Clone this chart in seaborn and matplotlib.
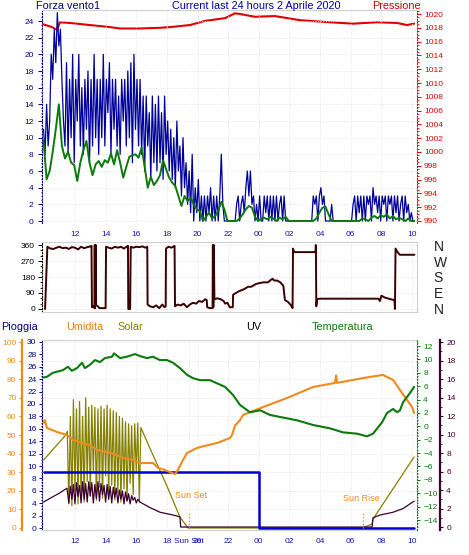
import numpy as np
import matplotlib
matplotlib.use("Agg")
import matplotlib.pyplot as plt
from matplotlib.ticker import MultipleLocator
import seaborn as sns

# ============================================
# Dati (ore dalla mezzanotte del 1 aprile ; 24 = 00:00 del 2 aprile)
# ============================================

# raffica (blu), un campione ogni 0.1 h a partire da 9.95
raffica = [
    11, 8, 14, 9, 12,
    20, 17,
    23, 19, 25, 21, 23, 17,
    12,
    9, 19, 8, 17, 10, 20, 7, 17, 12, 20, 9, 16, 8, 17, 11, 18, 7, 17, 9, 20, 10, 17, 8,
    17, 10, 20, 9, 17, 13, 19, 8, 17, 11, 17, 9, 15, 8, 17, 12, 17, 9, 18, 10, 19, 7, 20, 11, 17, 9,
    17, 8, 15, 6, 15, 9, 13, 5, 15, 7, 14, 6,
    15, 7, 13, 5, 15, 8, 12, 6,
    11, 5, 10, 4, 12, 6, 9, 3, 10, 4,
    7, 2, 6, 1, 8, 0, 4, 1, 5, 0,
    3, 0, 3, 0, 3, 1, 4, 0, 3, 0, 3,
    0, 3, 8, 2, 0, 0,
    0, 0, 0, 0, 0, 0,
    2, 3, 0,
    2, 3, 1,
    4, 6, 3, 6, 2,
    3, 0, 2,
    0, 3, 0, 0, 3, 1, 3, 0, 3, 0,
    3, 0, 3, 0, 2, 3, 0, 3, 0,
    0, 0, 0,
    0, 0, 0, 0, 0, 0, 0, 0, 0, 0, 0, 0, 0, 0,
    3, 2, 3, 0, 3, 4, 2, 3,
    0, 0, 0, 0, 2, 0,
    0, 0, 0, 0, 0, 0, 0, 0, 0, 0, 0, 0,
    2, 3, 0, 3, 1, 3, 0, 3,
    0, 3, 2, 3, 0, 4, 2, 3, 1, 3, 0, 3, 2, 3, 0, 3, 2, 3, 0, 3, 1, 3, 0, 2, 3, 0, 3, 1, 2, 0, 1, 0, 0,
]
t_raffica = 9.95 + 0.1 * np.arange(len(raffica))

# vento medio (verde), un campione ogni 0.2 h a partire da 9.95
vento_medio = [
    9.7, 5.0, 6.0, 8.3, 11.0, 14.0, 9.0, 7.5, 8.3, 7.0,
    6.7, 4.8, 7.0, 8.5, 9.6, 7.0, 5.5, 6.8, 7.2, 6.5,
    7.3, 7.0, 8.1, 6.8, 8.5, 7.0, 5.2, 6.5, 7.7, 7.9,
    8.0, 7.6, 8.8, 6.5, 4.0, 5.3, 4.3, 4.8, 5.5, 7.3,
    6.2, 5.2, 4.6, 4.2, 3.0, 1.8, 3.0, 2.4, 2.8, 2.0,
    1.4, 1.2, 0.0, 0.5, 1.0, 0.3, 0.6, 1.2, 2.3, 1.4,
    0, 0, 0, 0, 0.3, 0.8, 1.4, 1.8, 1.6, 0.5,
    0, 0.3, 0.4, 0.2, 0.5, 0.3, 0, 0.4, 0.2, 0.5,
    0, 0, 0, 0, 0, 0, 0, 0, 0, 0.3,
    1.0, 1.6, 1.7, 0.8, 0, 0, 0, 0, 0, 0,
    0, 0, 0, 0, 0.3, 0.2, 0, 0.4, 0.6, 0.3,
    0.7, 0.5, 0.8, 0.3, 0.6, 0.2, 0.4, 0.2, 0, 0.3,
    0, 0,
]
t_medio = 9.95 + 0.2 * np.arange(len(vento_medio))

# pressione (rosso)
pressione_t = [9.95, 10.5, 10.83, 11.02, 11.67, 12.98, 14.28, 14.94, 16.24, 17.55,
               18.2, 19.5, 20.49, 21.79, 22.44, 22.77, 23.75, 25.05, 26.69, 28.64,
               30.15, 31.71, 33.02, 33.67, 34.13]
pressione = [1018.5, 1018.1, 1017.7, 1018.8, 1018.7, 1018.4, 1018.1, 1017.9, 1017.9, 1018.0,
             1018.1, 1018.4, 1019.0, 1019.4, 1020.1, 1020.0, 1019.6, 1019.7, 1019.1, 1018.8,
             1018.6, 1018.8, 1018.7, 1018.4, 1018.6]

# direzione del vento (gradi)
direzione_t = [10.05, 10.2, 10.4, 10.6, 10.8, 11.0, 11.2, 11.4, 11.6, 11.8,
               12.0, 12.2, 12.4, 12.6, 12.8, 13.0, 13.08, 13.11, 13.2, 13.27,
               13.29, 13.31, 13.36, 13.38, 13.4, 13.5, 13.6, 13.8, 14.0, 14.03,
               14.2, 14.4, 14.6, 14.8, 15.0, 15.2, 15.4, 15.46, 15.48, 15.6,
               15.64, 15.8, 16.0, 16.2, 16.4, 16.6, 16.72, 16.74, 16.9, 17.1,
               17.3, 17.5, 17.7, 17.85, 17.92, 17.94, 18.1, 18.3, 18.5, 18.53,
               18.7, 18.9, 19.1, 19.3, 19.5, 19.7, 19.9, 20.1, 20.3, 20.5,
               20.6, 20.63, 20.8, 20.98, 21.0, 21.03, 21.06, 21.1, 21.3, 21.5,
               21.7, 21.8, 21.95, 22.1, 22.3, 22.32, 22.5, 22.7, 23.0, 23.3,
               23.5, 23.8, 24.0, 24.3, 24.6, 24.8, 24.9, 25.0, 25.2, 25.4,
               25.6, 25.7, 25.9, 26.1, 26.2, 26.23, 26.3, 27.7, 27.72, 27.75,
               27.8, 28.0, 31.8, 31.9, 32.0, 32.2, 32.4, 32.6, 32.85, 32.88,
               32.92, 33.05, 33.2, 34.15]
direzione = [0, 350, 340, 338, 345, 350, 342, 345, 338, 348,
             345, 335, 350, 342, 348, 352, 355, 10, 15, 5,
             360, 5, 360, 20, 20, 15, 5, 5, 5, 350,
             345, 340, 350, 345, 350, 340, 352, 355, 0, 0,
             350, 345, 350, 348, 352, 345, 350, 25, 15, 10,
             20, 5, 25, 10, 15, 340, 350, 345, 355, 15,
             25, 20, 30, 10, 25, 35, 30, 45, 40, 55,
             50, 10, 5, 5, 360, 10, 360, 55, 60, 55,
             45, 30, 35, 10, 10, 80, 90, 100, 110, 125,
             125, 140, 145, 150, 150, 165, 170, 160, 160, 150,
             130, 50, 40, 20, 5, 340, 320, 320, 360, 15,
             55, 58, 58, 45, 75, 65, 60, 55, 50, 0,
             340, 320, 305, 305]

# temperatura (verde, asse destro)
temp_t = [9.95, 10.17, 10.56, 11.22, 11.54, 11.8, 12.13, 12.46, 12.65, 12.98,
          13.31, 13.63, 13.96, 14.42, 14.55, 14.94, 15.39, 15.92, 16.24, 16.7,
          17.09, 17.55, 18.01, 18.4, 18.85, 19.31, 19.7, 20.16, 20.81, 21.79,
          22.31, 22.77, 23.42, 24.08, 24.73, 25.38, 26.49, 27.54, 28.64, 29.49,
          30.41, 31.06, 31.45, 32.04, 32.37, 32.76, 33.02, 33.21, 33.41, 33.87,
          34.13]
temperatura = [7.3, 7.4, 8.0, 8.4, 8.9, 8.3, 8.7, 9.5, 8.7, 9.2,
               9.9, 9.6, 10.2, 10.4, 10.9, 10.2, 10.4, 10.8, 10.5, 10.2,
               10.4, 9.9, 9.9, 9.5, 8.7, 7.7, 7.2, 6.9, 6.9, 5.9,
               4.7, 3.2, 2.1, 2.4, 1.7, 1.4, 0.9, 0.2, -0.3, -0.9,
               -1.1, -1.5, -1.1, 0.6, 2.0, 2.6, 2.1, 2.4, 3.6, 5.0,
               5.9]

# umidita (arancio)
umid_t = [9.95, 10.04, 10.17, 10.83, 11.48, 11.87, 12.33, 12.98, 13.44, 14.09,
          14.74, 15.13, 15.79, 16.24, 16.7, 17.09, 17.42, 17.87, 18.33, 18.53,
          18.72, 18.98, 19.31, 19.96, 20.16, 21.27, 22.12, 22.25, 22.44, 22.77,
          22.97, 24.27, 25.84, 27.54, 28.97, 29.04, 29.1, 30.8, 32.1, 32.76,
          33.21, 33.67, 34.0, 34.13]
umidita = [56.5, 58.0, 53.8, 51.6, 50.0, 47.3, 46.2, 44.6, 41.9, 40.9,
           39.2, 37.6, 36.6, 34.9, 34.9, 35.0, 32.3, 31.2, 29.6, 29.0,
           31.2, 35.5, 40.3, 43.0, 43.5, 45.7, 48.4, 50.0, 55.0, 58.0,
           60.8, 65.0, 69.9, 75.8, 78.0, 82.0, 78.0, 80.6, 82.3, 79.6,
           74.2, 68.8, 65.0, 61.8]

# radiazione solare (oliva, W/m2)
solar_t = ([9.95, 11.4] + list(np.round(np.arange(11.5, 16.35, 0.1), 2))
           + [17.0, 18.0, 18.85, 19.38, 30.74, 31.39, 31.45, 34.13])
solar = [365, 500,
         520, 130, 600, 120, 690, 200, 640, 130, 680, 160,
         600, 140, 700, 250, 650, 170, 660, 300, 650, 150,
         640, 220, 655, 160, 640, 280, 660, 170, 640, 230,
         630, 150, 620, 190, 600, 140, 590, 210, 570, 150,
         560, 240, 550, 180, 560, 300, 565, 140, 540,
         409, 226, 59, 0, 0, 21, 48, 382]

# UV (viola)
uv_t = ([9.95, 10.37, 11.02, 11.48] + list(np.round(np.arange(11.6, 16.25, 0.1), 2))
        + [16.24, 16.9, 17.55, 18.4, 18.85, 18.9, 31.39, 31.45, 31.91, 32.76, 33.41, 34.13])
uv = [2.7, 3.1, 3.7, 4.2,
      2.6, 4.4, 3.0, 4.6, 2.5, 4.8, 3.3, 4.5, 2.6, 4.9,
      3.0, 4.7, 2.7, 4.9, 3.4, 4.8, 2.6, 4.6, 3.1, 4.9,
      2.8, 4.7, 3.5, 4.5, 2.7, 4.6, 3.0, 4.4, 2.6, 4.3,
      3.2, 4.2, 2.6, 4.0, 3.0, 3.9, 2.5, 3.8, 2.8, 3.6,
      2.5, 3.4, 2.9, 3.2, 2.6, 3.0, 2.8,
      2.7, 2.1, 1.6, 1.3, 1.1, 0, 0, 1.0, 1.3, 1.6, 2.0, 2.8]

# pioggia (blu)
pioggia_t = [9.95, 24.0, 24.0, 34.15]
pioggia = [9.0, 9.0, 0.0, 0.0]

tramonto = 19.44
alba = 30.8

ore = list(range(12, 35, 2))
etichette_ore = [f"{h % 24:02d}" for h in ore]

# ============================================
# Stile
# ============================================
sns.set_style("white")
plt.rcParams['font.family'] = ['Liberation Sans', 'DejaVu Sans']

NAVY = "#000080"
BLU_RAF = "#00009a"
VERDE = "#0b7a0b"
ROSSO = "#e00000"
MARRONE = "#3a0000"
ARANCIO = "#f08a1a"
OLIVA = "#858000"
VIOLA = "#3c0030"
BLU_PIO = "#0000d0"
XTICK = "#1616b8"
GRIGIO = "#d0d0d0"
GRID = "#e4e4e4"

W, H = 469, 555
XLIM = (9.85, 34.32)
fig = plt.figure(figsize=(W / 100, H / 100), dpi=100)
fig.patch.set_facecolor("white")


def rect(l, t, r, b):
    return [l / W, 1 - b / H, (r - l) / W, (b - t) / H]


def testo(x, y, s, color, size=7.8, **kw):
    fig.text(x / W, 1 - y / H, s, color=color, fontsize=size, va="center", ha="left", **kw)


def linea(ax, x, y, color, lw):
    sns.lineplot(x=x, y=y, ax=ax, color=color, lw=lw, estimator=None, sort=False)


def spine_style(ax, visible):
    for name in ["left", "right", "top", "bottom"]:
        ax.spines[name].set_visible(name in visible)
        if name in visible:
            ax.spines[name].set_color(visible[name][0])
            ax.spines[name].set_linewidth(visible[name][1])
            ax.spines[name].set_linestyle(visible[name][2])


# ============================================
# PANNELLO 1 - vento e pressione
# ============================================
ax1 = fig.add_axes(rect(42, 10, 417, 223))
ax1p = ax1.twinx()
ax1.set_zorder(ax1p.get_zorder() + 1)
ax1.patch.set_visible(False)

linea(ax1p, pressione_t, pressione, ROSSO, 1.5)
linea(ax1, t_raffica, raffica, BLU_RAF, 0.9)
linea(ax1, t_medio, vento_medio, VERDE, 1.4)

ax1.set_xlim(XLIM)
ax1.set_ylim(-0.24, 25.32)
ax1p.set_ylim(989.71, 1020.58)
ax1.set_xticks(ore, etichette_ore)
ax1.xaxis.set_minor_locator(MultipleLocator(0.5))
ax1.set_yticks(range(0, 25, 2))
ax1.yaxis.set_minor_locator(MultipleLocator(0.5))
ax1p.set_yticks(range(990, 1021, 2))
ax1p.yaxis.set_minor_locator(MultipleLocator(0.5))

ax1.tick_params(axis="x", which="major", colors=XTICK, labelsize=6, length=3, width=0.7, pad=3, direction="out")
ax1.tick_params(axis="x", which="minor", colors=XTICK, length=1.5, width=0.6, direction="out")
ax1.tick_params(axis="y", which="major", colors=NAVY, labelsize=6, length=3, width=0.7, pad=3, direction="out")
ax1.tick_params(axis="y", which="minor", colors=NAVY, length=1, width=0.6, direction="out")
ax1p.tick_params(axis="y", which="major", colors=ROSSO, labelsize=6, length=3, width=0.7, pad=2, direction="out")
ax1p.tick_params(axis="y", which="minor", colors=ROSSO, length=1.5, width=0.6, direction="out")
ax1.grid(True, which="major", color=GRID, ls=":", lw=0.7)
ax1.set_axisbelow(True)

spine_style(ax1, {"left": (NAVY, 0.8, ":"), "top": (GRIGIO, 0.8, "-")})
spine_style(ax1p, {"right": (ROSSO, 0.8, ":")})

testo(36, 6, "Forza vento1", NAVY)
testo(172, 6, "Current last 24 hours 2 Aprile 2020", "#0000b0")
testo(372, 6, "Pressione", "#cc0000")

# ============================================
# PANNELLO 2 - direzione del vento
# ============================================
ax2 = fig.add_axes(rect(42, 242, 417, 312))
linea(ax2, direzione_t, direzione, MARRONE, 1.4)
ax2.set_xlim(XLIM)
ax2.set_ylim(-16.9, 376.9)
ax2.set_xticks(ore)
ax2.tick_params(axis="x", length=0, labelbottom=False)
ax2.set_yticks([0, 90, 180, 270, 360])
ax2.yaxis.set_minor_locator(MultipleLocator(30))
ax2.tick_params(axis="y", which="major", colors="black", labelsize=6, length=3, width=0.7, pad=2, direction="out")
ax2.tick_params(axis="y", which="minor", colors="black", length=1.5, width=0.6, direction="out")
ax2.grid(True, which="major", color=GRID, ls=":", lw=0.7)
ax2.set_axisbelow(True)
spine_style(ax2, {"left": ("black", 0.8, ":"), "top": (GRIGIO, 0.8, "-"),
                  "right": (GRIGIO, 0.8, "-"), "bottom": (GRIGIO, 0.8, "-")})

ax2r = ax2.twinx()
ax2r.set_ylim(-16.9, 376.9)
ax2r.set_yticks([0, 90, 180, 270, 360], ["N", "E", "S", "W", "N"])
ax2r.tick_params(axis="y", length=0, pad=12, labelsize=10, colors="#202020")
spine_style(ax2r, {})

# ============================================
# PANNELLO 3 - pioggia, umidita, solare, UV, temperatura
# ============================================
ax3 = fig.add_axes(rect(42, 340, 417, 530))
ax3s = ax3.twinx()
ax3u = ax3.twinx()
ax3h = ax3.twinx()
ax3t = ax3.twinx()
for z, a in enumerate([ax3s, ax3u, ax3, ax3h, ax3t]):
    a.set_zorder(z + 1)
    a.patch.set_visible(False)

linea(ax3s, solar_t, solar, OLIVA, 0.9)
linea(ax3u, uv_t, uv, VIOLA, 0.9)
linea(ax3, pioggia_t, pioggia, BLU_PIO, 1.8)
linea(ax3h, umid_t, umidita, ARANCIO, 1.5)
linea(ax3t, temp_t, temperatura, VERDE, 1.5)

ax3.set_xlim(XLIM)
ax3.set_ylim(-0.32, 30.32)
ax3s.set_ylim(-10.8, 1010.8)
ax3u.set_ylim(-0.32, 20.22)
ax3h.set_ylim(-1.08, 101.08)
ax3t.set_ylim(-15.49, 12.9)

# griglia sotto tutte le linee (asse solare, il piu basso)
ax3s.set_xlim(XLIM)
ax3s.set_xticks(ore)
ax3s.set_yticks(range(100, 1001, 100))
ax3s.tick_params(axis="both", length=0, labelleft=False, labelright=False, labelbottom=False)
ax3s.xaxis.set_visible(True)
ax3s.grid(True, which="major", color=GRID, ls=":", lw=0.7)

# tramonto / alba
ax3h.vlines([tramonto, alba], 0, 8.6, colors=ARANCIO, linestyles=":", lw=0.9)
ax3h.text(tramonto + 0.15, 17.7, "Sun Set", color=ARANCIO, fontsize=6.5, ha="center", va="center")
ax3h.text(alba - 0.1, 16.1, "Sun Rise", color=ARANCIO, fontsize=6.5, ha="center", va="center")

tick_x = ore[:4] + [tramonto] + ore[4:]
etich_x = etichette_ore[:4] + ["Sun Set"] + etichette_ore[4:]
ax3.set_xticks(tick_x, etich_x)
ax3.xaxis.set_minor_locator(MultipleLocator(0.5))
ax3.tick_params(axis="x", which="major", colors=XTICK, labelsize=6, length=3, width=0.7, pad=3, direction="out")
ax3.tick_params(axis="x", which="minor", colors=XTICK, length=1.5, width=0.6, direction="out")

ax3.set_yticks(range(0, 31, 2))
ax3.yaxis.set_minor_locator(MultipleLocator(0.5))
ax3.tick_params(axis="y", which="major", colors=NAVY, labelsize=6, length=2.5, width=0.7, pad=1.5, direction="out")
ax3.tick_params(axis="y", which="minor", colors=NAVY, length=1, width=0.6, direction="out")
spine_style(ax3, {"left": (NAVY, 0.8, ":"), "top": (GRIGIO, 0.8, "-"), "bottom": (GRIGIO, 0.8, "-")})

ax3h.yaxis.tick_left()
ax3h.spines["left"].set_position(("outward", 14.4))
ax3h.set_yticks(range(0, 101, 10))
ax3h.yaxis.set_minor_locator(MultipleLocator(5))
ax3h.tick_params(axis="y", which="major", colors=ARANCIO, labelsize=6, length=2.5, width=0.8, pad=1.5, direction="out")
ax3h.tick_params(axis="y", which="minor", colors=ARANCIO, length=1.2, width=0.6, direction="out")
spine_style(ax3h, {"left": (ARANCIO, 1.6, "-")})

ax3t.set_yticks(range(-14, 13, 2))
ax3t.yaxis.set_minor_locator(MultipleLocator(0.5))
ax3t.tick_params(axis="y", which="major", colors=VERDE, labelsize=6, length=2.5, width=0.7, pad=2, direction="out")
ax3t.tick_params(axis="y", which="minor", colors=VERDE, length=1, width=0.6, direction="out")
spine_style(ax3t, {"right": (VERDE, 0.8, ":")})

ax3u.spines["right"].set_position(("outward", 16.6))
ax3u.set_yticks(range(0, 21, 2))
ax3u.yaxis.set_minor_locator(MultipleLocator(1))
ax3u.tick_params(axis="y", which="major", colors=VIOLA, labelsize=6, length=2.5, width=0.8, pad=2, direction="out")
ax3u.tick_params(axis="y", which="minor", colors=VIOLA, length=1.2, width=0.6, direction="out")
spine_style(ax3u, {"right": (VIOLA, 1.6, "-")})

spine_style(ax3s, {})

testo(1, 327, "Pioggia", NAVY)
testo(66, 327, "Umidita", "#e08010")
testo(117, 327, "Solar", OLIVA)
testo(246, 327, "UV", "black")
testo(312, 327, "Temperatura", VERDE)

fig.savefig("out.png", dpi=100)
